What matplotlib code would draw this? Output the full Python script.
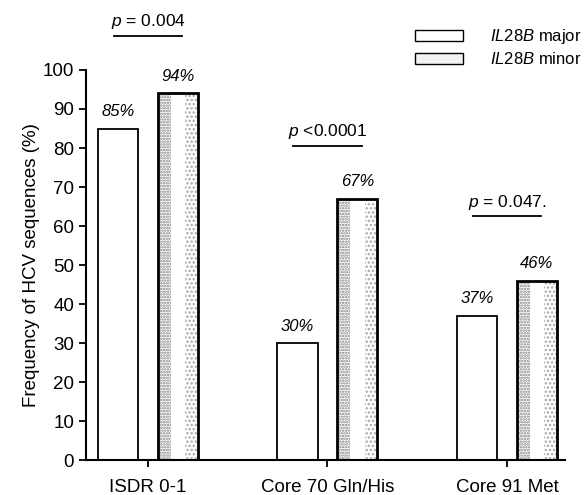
import matplotlib
matplotlib.use("Agg")
import matplotlib.pyplot as plt
from matplotlib.patches import Patch

plt.rcParams["font.family"] = ["Liberation Sans", "DejaVu Sans"]
plt.rcParams["mathtext.fontset"] = "custom"
plt.rcParams["mathtext.it"] = "Liberation Sans:italic"
plt.rcParams["mathtext.rm"] = "Liberation Sans"
plt.rcParams["hatch.linewidth"] = 1.2

categories = ["ISDR 0-1", "Core 70 Gln/His", "Core 91 Met"]
major = [85, 30, 37]
minor = [94, 67, 46]
p_labels = ["$p$ = 0.004", "$p$ <0.0001", "$p$ = 0.047."]
p_heights = [108.7, 80.5, 62.5]
series_names = [r"$\mathit{IL28B}$ major", r"$\mathit{IL28B}$ minor"]

fig = plt.figure(figsize=(5.87, 4.95), dpi=100)
ax = fig.add_axes([0.1465, 0.0697, 0.816, 0.789])

x = list(range(len(categories)))
w = 0.223
off = 0.167
xm = [i - off for i in x]
xn = [i + off for i in x]

ax.bar(xm, major, width=w, facecolor="white", edgecolor="black", linewidth=1.3, zorder=2)

# stippled fill for the minor-allele bars: two dotted strips inside a white bar
ax.bar(xn, minor, width=w, facecolor="white", edgecolor="none", linewidth=0, zorder=2)
ax.bar([v - w * 0.33 for v in xn], minor, width=w * 0.3, facecolor="none",
       edgecolor="#808080", linewidth=0, hatch="......", zorder=3)
ax.bar([v + w * 0.33 for v in xn], minor, width=w * 0.3, facecolor="none",
       edgecolor="#a8a8a8", linewidth=0, hatch="....", zorder=3)
ax.bar(xn, minor, width=w, facecolor="none", edgecolor="black", linewidth=2.0, zorder=4)

for xi, v in zip(xm, major):
    ax.text(xi, v + 2.5, f"{v}%", ha="center", va="bottom", fontsize=12, style="italic")
for xi, v in zip(xn, minor):
    ax.text(xi, v + 2.5, f"{v}%", ha="center", va="bottom", fontsize=12, style="italic")

# significance markers above each pair
for xi, h, lab in zip(x, p_heights, p_labels):
    ax.plot([xi - 0.19, xi + 0.19], [h, h], color="black", lw=1.3, clip_on=False)
    ax.text(xi, h + 1.2, lab, ha="center", va="bottom", fontsize=12.5, clip_on=False)

ax.set_xlim(-0.345, 2.323)
ax.set_ylim(0, 100)
ax.set_yticks(range(0, 101, 10))
ax.set_xticks(x)
ax.set_xticklabels(categories)
ax.tick_params(axis="both", labelsize=13.5, width=1.3, length=5, direction="out")
ax.tick_params(axis="x", pad=8)
ax.set_ylabel("Frequency of HCV sequences (%)", fontsize=13.5, labelpad=2)

for s in ("top", "right"):
    ax.spines[s].set_visible(False)
for s in ("left", "bottom"):
    ax.spines[s].set_linewidth(1.5)

handles = [
    Patch(facecolor="white", edgecolor="black", linewidth=1.0),
    Patch(facecolor="#f2f2f2", edgecolor="black", linewidth=1.0),
]
ax.legend(handles, series_names, loc="upper left", bbox_to_anchor=(0.707, 0.945),
          bbox_transform=fig.transFigure, frameon=False, fontsize=12,
          handlelength=2.9, handleheight=0.6, handletextpad=1.6, labelspacing=0.3,
          borderpad=0, borderaxespad=0)

fig.savefig("out.png", dpi=100)
